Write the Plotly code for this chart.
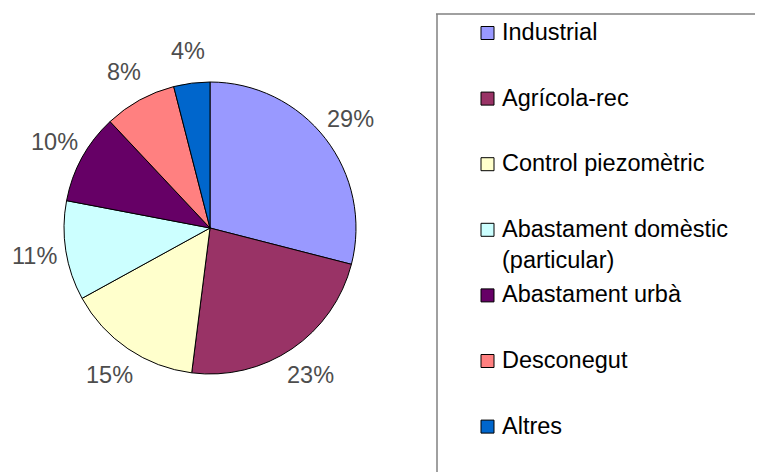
import numpy as np
import plotly.graph_objects as go

categories = ["Industrial", "Agrícola-rec", "Control piezomètric",
              "Abastament domèstic<br>(particular)", "Abastament urbà",
              "Desconegut", "Altres"]
values = [29, 23, 15, 11, 10, 8, 4]
colors = ["#9999FF", "#993366", "#FFFFCC", "#CCFFFF", "#660066", "#FF8080", "#0066CC"]

W, H = 763, 472
OFF = 8  # page body margin
FONT = "Liberation Sans, Arial, sans-serif"


def px(x):
    return (x - OFF) / W


def py(y):
    return 1 - (y - OFF) / H


cx, cy, r = 210, 228, 146

fig = go.Figure()
fig.add_trace(go.Pie(
    labels=[c.replace("<br>", " ") for c in categories],
    values=values,
    sort=False,
    direction="clockwise",
    rotation=0,
    marker=dict(colors=colors, line=dict(color="#000000", width=1)),
    textinfo="none",
    domain=dict(x=[px(cx - r), px(cx + r)], y=[py(cy + r), py(cy - r)]),
    showlegend=False,
    hoverinfo="label+percent",
))

# percentage labels placed outside each slice, at the slice's mid-angle
vals = np.array(values, dtype=float)
frac = vals / vals.sum()
mid = (np.cumsum(frac) - frac / 2) * 2 * np.pi
annotations = []
rl = 178
for f, a in zip(frac, mid):
    annotations.append(dict(xref="paper", yref="paper",
                            x=px(cx + rl * np.sin(a)), y=py(cy - rl * np.cos(a)),
                            xanchor="center", yanchor="middle",
                            text=f"{round(f * 100):.0f}%", showarrow=False,
                            font=dict(family=FONT, size=23.5, color="#4d4d4d")))

# legend frame (only top and left edges visible in the original)
shapes = [
    dict(type="line", xref="paper", yref="paper",
         x0=px(436), x1=px(900), y0=py(14), y1=py(14),
         line=dict(color="#808080", width=1.5)),
    dict(type="line", xref="paper", yref="paper",
         x0=px(437), x1=px(437), y0=py(14), y1=py(700),
         line=dict(color="#808080", width=1.5)),
]
y0, step = 33, 65.6
for i, (lab, col) in enumerate(zip(categories, colors)):
    yc = y0 + i * step
    shapes.append(dict(type="rect", xref="paper", yref="paper",
                       x0=px(481), x1=px(494), y0=py(yc + 6.5), y1=py(yc - 6.5),
                       line=dict(color="#000000", width=1), fillcolor=col))
    annotations.append(dict(xref="paper", yref="paper", x=px(500), y=py(yc - 16),
                            xanchor="left", yanchor="top", text=lab, showarrow=False,
                            align="left",
                            font=dict(family=FONT, size=23.5, color="#000000")))

fig.update_layout(
    width=W, height=H,
    margin=dict(l=0, r=0, t=0, b=0),
    paper_bgcolor="#FFFFFF",
    plot_bgcolor="#FFFFFF",
    shapes=shapes,
    annotations=annotations,
)

fig.write_html("out.html")
